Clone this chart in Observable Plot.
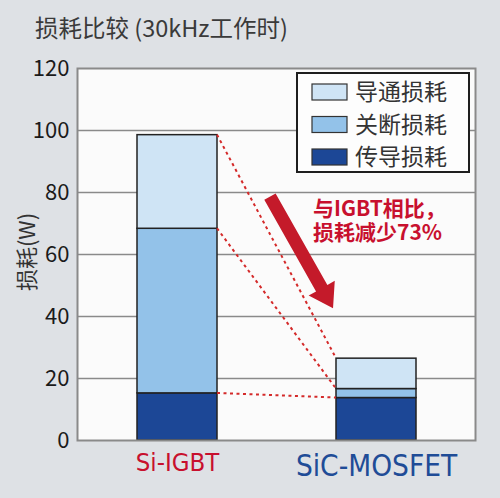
<!DOCTYPE html>
<html><head><meta charset="utf-8">
<script src="https://cdn.jsdelivr.net/npm/d3@7"></script>
<script src="https://cdn.jsdelivr.net/npm/@observablehq/plot@0.6"></script>
<style>
body{margin:0;background:#dee1e5;width:500px;height:498px;overflow:hidden;font-family:"Noto Sans CJK SC","Noto Sans",sans-serif;}
#title{height:48px;padding-left:35px;font-size:23.5px;line-height:54px;color:#3a3a3a;white-space:nowrap;}
#chart svg{display:block;}
</style></head><body>
<div id="title">损耗比较 (30kHz工作时)</div>
<div id="chart"></div>
<script>
const devices = ["Si-IGBT", "SiC-MOSFET"];
const lossTypes = ["传导损耗", "关断损耗", "导通损耗"]; // stack order, bottom to top
const siIgbt = [15.2, 53.1, 30.2];
const sicMosfet = [13.7, 2.9, 9.8];
const yTicks = [0, 20, 40, 60, 80, 100, 120];
const yLabel = "损耗(W)";
const legendOrder = ["导通损耗", "关断损耗", "传导损耗"];
const lossColors = ["#1c4796", "#93c2e9", "#cfe4f5"];
const deviceColors = ["#c8102e", "#1f4c97"];
const note = ["与IGBT相比，", "损耗减少73%"];

const series = [siIgbt, sicMosfet];
const rows = devices.flatMap((d, i) => lossTypes.map((t, j) => ({device: d, type: t, value: series[i][j]})));
const cum = a => a.map((_, j) => d3.sum(a.slice(0, j + 1)));
const links = lossTypes.map((t, j) => ({y1: cum(siIgbt)[j], y2: cum(sicMosfet)[j]}));

function overlay(index, scales, values, dim) {
  const x = scales.x, y = scales.y, color = scales.color;
  const bw = typeof x.bandwidth === "function" ? x.bandwidth() : 0;
  const xr = x(devices[0]) + bw, xl = x(devices[1]);
  const g = d3.create("svg:g").attr("text-anchor", "start");
  // dashed connectors
  for (const l of links) {
    g.append("line").attr("x1", xr).attr("y1", y(l.y1)).attr("x2", xl).attr("y2", y(l.y2))
      .attr("stroke", "#d42a2a").attr("stroke-width", 2).attr("stroke-dasharray", "3,3.5");
  }
  // arrow
  const gap = xl - xr;
  const tx = xr + gap * 0.445, ty = y(78.5);
  const hx = xr + gap * 0.975, hy = y(42.5);
  const dx = hx - tx, dy = hy - ty, L = Math.hypot(dx, dy);
  const ux = dx / L, uy = dy / L, px = -uy, py = ux;
  const sw = 6.5, hw = 15, hl = 23;
  const bx = hx - ux * hl, by = hy - uy * hl;
  const pts = [
    [tx + px * sw, ty + py * sw], [bx + px * sw, by + py * sw], [bx + px * hw, by + py * hw],
    [hx, hy], [bx - px * hw, by - py * hw], [bx - px * sw, by - py * sw], [tx - px * sw, ty - py * sw]
  ];
  g.append("polygon").attr("points", pts.map(p => p.join(",")).join(" ")).attr("fill", "#c41a2a");
  // note
  const nx = x(devices[1]) + bw / 2 - 63;
  note.forEach((s, i) => g.append("text").attr("fill", "#c8102e").attr("font-size", 21).attr("font-weight", "bold")
    .attr("x", nx).attr("y", y(72.3) + i * 24).text(s));
  // legend
  const right = dim.width - dim.marginRight, top = dim.marginTop;
  const lx = right - 178, ly = top + 5;
  g.append("rect").attr("x", lx).attr("y", ly).attr("width", 172).attr("height", 99)
    .attr("fill", "#fdfdfd").attr("stroke", "#1e1e1e").attr("stroke-width", 2);
  legendOrder.forEach((t, i) => {
    const cy = ly + 19 + i * 32.5;
    g.append("rect").attr("x", lx + 15).attr("y", cy - 8).attr("width", 35).attr("height", 16)
      .attr("fill", color(t)).attr("stroke", "#333").attr("stroke-width", 1.2);
    g.append("text").attr("x", lx + 58).attr("y", cy).attr("dy", "0.36em").attr("font-size", 23)
      .attr("fill", "#333").text(t);
  });
  // y-axis label
  const midY = (dim.marginTop + dim.height - dim.marginBottom) / 2 - 2;
  g.append("text").attr("transform", `translate(${dim.marginLeft - 50},${midY}) rotate(-90)`)
    .attr("text-anchor", "middle").attr("dy", "0.36em").attr("font-size", 22).attr("fill", "#333").text(yLabel);
  return g.node();
}

const narrow = "'Liberation Sans Narrow','Arial Narrow','DejaVu Sans Condensed',sans-serif";
const chart = Plot.plot({
  width: 500,
  height: 450,
  marginTop: 20,
  marginBottom: 58,
  marginLeft: 77,
  marginRight: 25,
  style: {background: "transparent", fontFamily: "'Noto Sans CJK SC','Noto Sans',sans-serif", fontSize: "22px", color: "#222"},
  x: {domain: devices, paddingInner: 0.6, paddingOuter: 0.3, axis: null},
  y: {domain: [0, 120], axis: null},
  color: {domain: lossTypes, range: lossColors},
  marks: [
    Plot.frame({fill: "#fbfbfb"}),
    Plot.gridY(yTicks.slice(1, -1), {stroke: "#8a8a8a", strokeOpacity: 1, strokeWidth: 1.5}),
    Plot.axisY(yTicks, {tickSize: 0, tickPadding: 8, fontSize: 22, fill: "#1a1a1a", label: null}),
    Plot.barY(rows, {x: "device", y: "value", fill: "type", order: lossTypes, stroke: "#222", strokeWidth: 1.5}),
    overlay,
    ...devices.map((d, i) => Plot.text([d], {x: () => d, frameAnchor: "bottom", lineAnchor: "middle", dy: i ? 26 : 22.5, fill: deviceColors[i], fontSize: i ? 29.5 : 25.5, fontFamily: narrow})),
    Plot.frame({stroke: "#8a8a8a", strokeWidth: 2})
  ]
});
document.getElementById("chart").appendChild(chart);
</script>
</body></html>
